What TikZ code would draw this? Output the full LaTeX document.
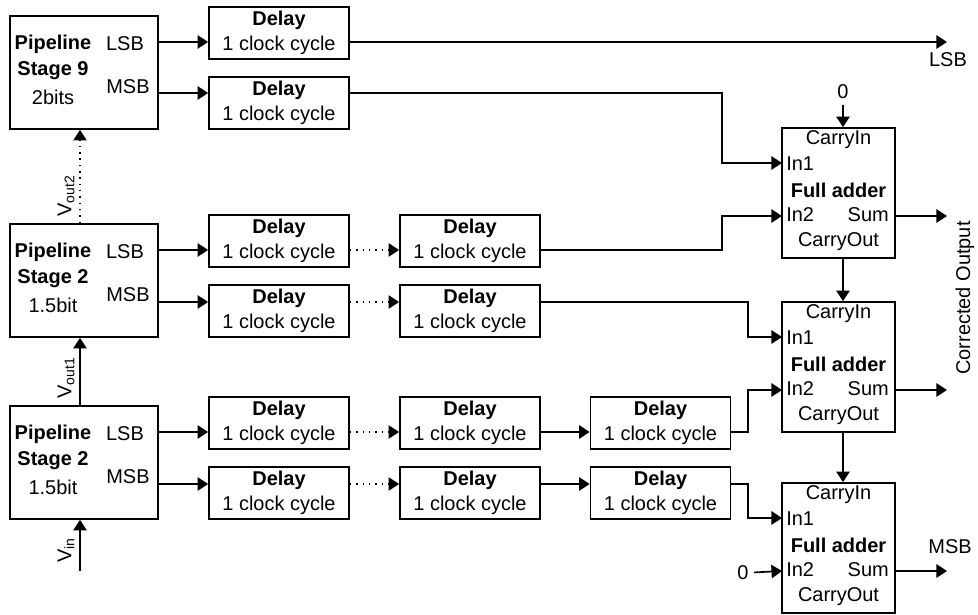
\documentclass[tikz,border=0pt]{standalone}
\usepackage{fontspec}
\setmainfont{Liberation Sans}
\usetikzlibrary{arrows.meta,positioning,calc}

\begin{document}
\begin{tikzpicture}[x=0.025cm, y=-0.025cm, line width=1.2pt,
    font=\fontsize{14.2}{17.8}\selectfont,
    stage/.style={draw, minimum width=3.7cm, minimum height=2.825cm},
    delay/.style={draw, align=center, inner sep=0, minimum width=3.5cm, minimum height=1.3cm},
    adder/.style={draw, minimum width=2.825cm, minimum height=3.25cm},
    arr/.style={-{Triangle[length=7.5pt,width=9.5pt]}},
    dots/.style={arr, dash pattern=on 1pt off 3.5pt, line width=0.8pt}
]
\useasboundingbox (0,0) rectangle (978,615);

% Pipeline stages
\foreach \n/\t/\k/\b in {stageTop/16/9/2bits, stageMid/224/2/1.5bit, stageLow/406/2/1.5bit} {
    \node[stage] (\n) at (84,\t+56.5) {};
    \node at (53,\t+28) {\textbf{Pipeline}};
    \node at (53,\t+55) {\textbf{Stage \k}};
    \node at (53,\t+81) {\b};
    \node at (125,\t+28) {LSB};
    \node at (128,\t+71) {MSB};
}
\coordinate (tL) at (158,42);
\coordinate (tM) at (158,93);
\coordinate (mL) at (158,250);
\coordinate (mM) at (158,302);
\coordinate (lL) at (158,432);
\coordinate (lM) at (158,484);

% Delay chains
\node[delay] (tl1) at (279,33)  {\textbf{Delay}\\1 clock cycle};
\node[delay] (tm1) at (279,103) {\textbf{Delay}\\1 clock cycle};
\node[delay] (ml1) at (279,241) {\textbf{Delay}\\1 clock cycle};
\node[delay] (ml2) at (470,241) {\textbf{Delay}\\1 clock cycle};
\node[delay] (mm1) at (279,311) {\textbf{Delay}\\1 clock cycle};
\node[delay] (mm2) at (470,311) {\textbf{Delay}\\1 clock cycle};
\node[delay] (ll1) at (279,423) {\textbf{Delay}\\1 clock cycle};
\node[delay] (ll2) at (470,423) {\textbf{Delay}\\1 clock cycle};
\node[delay] (ll3) at (660.5,423) {\textbf{Delay}\\1 clock cycle};
\node[delay] (lm1) at (279,493) {\textbf{Delay}\\1 clock cycle};
\node[delay] (lm2) at (470,493) {\textbf{Delay}\\1 clock cycle};
\node[delay] (lm3) at (660.5,493) {\textbf{Delay}\\1 clock cycle};

% Full adders
\foreach \n/\t in {fa1/128, fa2/302, fa3/483} {
    \node[adder] (\n) at (838.5,\t+65) {};
    \node at (838.5,\t+12) {CarryIn};
    \node[anchor=west, inner sep=1pt] at (784,\t+36) {In1};
    \node at (838.5,\t+62) {\textbf{Full adder}};
    \node[anchor=west, inner sep=1pt] at (784,\t+87) {In2};
    \node[anchor=east, inner sep=1pt] at (891,\t+87) {Sum};
    \node at (838.5,\t+114) {CarryOut};
    \coordinate (\n i1) at (782,\t+35);
    \coordinate (\n i2) at (782,\t+88);
    \coordinate (\n s) at (895,\t+88);
}

% Stage outputs into the delays
\draw[arr] (tL) -- (tL -| tl1.west);
\draw[arr] (tM) -- (tM -| tm1.west);
\draw[arr] (mL) -- (mL -| ml1.west);
\draw[arr] (mM) -- (mM -| mm1.west);
\draw[arr] (lL) -- (lL -| ll1.west);
\draw[arr] (lM) -- (lM -| lm1.west);

\draw[dots] (ml1.east |- mL) -- (mL -| ml2.west);
\draw[dots] (mm1.east |- mM) -- (mM -| mm2.west);
\draw[dots] (ll1.east |- lL) -- (lL -| ll2.west);
\draw[dots] (lm1.east |- lM) -- (lM -| lm2.west);
\draw[arr] (ll2.east |- lL) -- (lL -| ll3.west);
\draw[arr] (lm2.east |- lM) -- (lM -| lm3.west);

% Delays into the adders
\coordinate (lsbout) at (947,42);
\draw[arr] (tl1.east |- tL) -- (lsbout);
\node (lsb) at (948,60) {LSB};
\draw[arr] (tm1.east |- tM) -| ($(fa1i1)+(-60,0)$) -- (fa1i1);
\draw[arr] (ml2.east |- mL) -| ($(fa1i2)+(-60,0)$) -- (fa1i2);
\draw[arr] (mm2.east |- mM) -| ($(fa2i1)+(-34,0)$) -- (fa2i1);
\draw[arr] (ll3.east |- lL) -| ($(fa2i2)+(-34,0)$) -- (fa2i2);
\draw[arr] (lm3.east |- lM) -| ($(fa3i1)+(-34,0)$) -- (fa3i1);

% Carry chain
\node (cin) at (843,92) {0};
\draw[arr] (cin.south) -- (cin |- fa1.north);
\draw[arr] (fa1.south -| cin) -- (fa2.north -| cin);
\draw[arr] (fa2.south -| cin) -- (fa3.north -| cin);
\node (zero) at (743,573) {0};
\draw[arr] (zero) -- (fa3i2);

% Sums
\draw[arr] (fa1s) -- ++(52,0);
\draw[arr] (fa2s) -- ++(52,0);
\draw[arr] (fa3s) -- ++(52,0);
\node (msb) at (950,547) {MSB};
\node[rotate=90] (corr) at (965,298) {Corrected Output};

% Residue path between stages
\coordinate (vin) at (80,571);
\draw[arr] (vin) -- (vin |- stageLow.south);
\draw[arr] (vin |- stageLow.north) -- (vin |- stageMid.south);
\draw[dots] (vin |- stageMid.north) -- (vin |- stageTop.south);
\node[rotate=90] at (66,550) {V\textsubscript{in}};
\node[rotate=90] at (66,378) {V\textsubscript{out1}};
\node[rotate=90] at (66,196) {V\textsubscript{out2}};
\end{tikzpicture}
\end{document}
